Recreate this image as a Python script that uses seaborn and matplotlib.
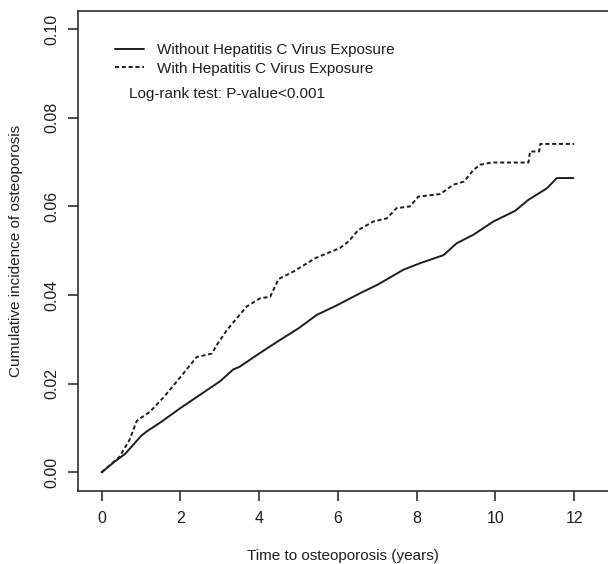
import numpy as np
import pandas as pd
import matplotlib
matplotlib.use("Agg")
import matplotlib.pyplot as plt
import seaborn as sns

# cumulative incidence
time_without = [0, 0.3, 0.6, 1.0, 1.14, 1.5, 2.0, 2.5, 3.0, 3.34, 3.5, 4.0, 4.5, 5.0,
                5.46, 6.0, 6.56, 7.0, 7.66, 8.09, 8.68, 9.02, 9.44, 9.95, 10.5,
                10.84, 11.31, 11.56, 11.98]
cuminc_without = [0, 0.0022, 0.0042, 0.0082, 0.0092, 0.0113, 0.0145, 0.0175, 0.0205,
                  0.0232, 0.0238, 0.0268, 0.0297, 0.0325, 0.0355, 0.0378, 0.0404,
                  0.0423, 0.0457, 0.0472, 0.0490, 0.0517, 0.0536, 0.0566, 0.0590,
                  0.0615, 0.0641, 0.0664, 0.0664]

time_with = [0, 0.45, 0.7, 0.89, 1.23, 1.6, 2.0, 2.41, 2.8, 2.92, 3.18, 3.68, 4.03,
             4.28, 4.49, 4.87, 5.42, 6.05, 6.27, 6.52, 6.9, 7.24, 7.49, 7.83, 8.04,
             8.6, 8.93, 9.2, 9.44, 9.61, 9.9, 10.84, 10.88, 11.11, 11.14, 12.0]
cuminc_with = [0, 0.0035, 0.0072, 0.0116, 0.0137, 0.0172, 0.0215, 0.0260, 0.0268,
               0.0287, 0.0321, 0.0374, 0.0393, 0.0396, 0.0436, 0.0453, 0.0483,
               0.0506, 0.0521, 0.0547, 0.0566, 0.0573, 0.0596, 0.0600, 0.0622,
               0.0628, 0.0649, 0.0656, 0.0682, 0.0694, 0.0699, 0.0699, 0.0724,
               0.0724, 0.0741, 0.0741]

group_names = ["Without Hepatitis C Virus Exposure", "With Hepatitis C Virus Exposure"]
x_ticks = [0, 2, 4, 6, 8, 10, 12]
y_ticks = [0.00, 0.02, 0.04, 0.06, 0.08, 0.10]
y_tick_labels = ["0.00", "0.02", "0.04", "0.06", "0.08", "0.10"]

df = pd.concat([
    pd.DataFrame({"time": time_without, "cuminc": cuminc_without, "group": group_names[0]}),
    pd.DataFrame({"time": time_with, "cuminc": cuminc_with, "group": group_names[1]}),
])

sns.set_style("ticks")
plt.rcParams["font.family"] = ["Liberation Sans", "DejaVu Sans"]
ink = "#1e1e1e"

fig = plt.figure(figsize=(6.08, 5.64), dpi=100)
ax = fig.add_axes([0.1278, 0.1300, 0.8722, 0.8505])

sns.lineplot(data=df, x="time", y="cuminc", style="group", style_order=group_names,
             dashes={group_names[0]: "", group_names[1]: (2.1, 1.4)},
             color=ink, linewidth=1.4, estimator=None, sort=False, ax=ax)

ax.set_xlim(-0.61, 12.86)
ax.set_ylim(-0.00415, 0.1041)
ax.set_xticks(x_ticks)
ax.set_xticklabels([str(t) for t in x_ticks])
ax.set_yticks(y_ticks)
ax.set_yticklabels(y_tick_labels, rotation=90, va="center")

for side in ["left", "top", "bottom"]:
    ax.spines[side].set_linewidth(1.1)
    ax.spines[side].set_color(ink)
ax.spines["right"].set_visible(False)
ax.tick_params(axis="both", direction="out", length=7, width=1.1, color=ink,
               labelsize=11.5, labelcolor=ink)
ax.tick_params(axis="x", pad=7.5)
ax.tick_params(axis="y", pad=6)

ax.set_xlabel("Time to osteoporosis (years)", fontsize=11, color=ink)
ax.set_ylabel("Cumulative incidence of osteoporosis", fontsize=11, color=ink)
ax.xaxis.set_label_coords(0.5, -0.121)
ax.yaxis.set_label_coords(-0.103, 0.5)

handles, labels = ax.get_legend_handles_labels()
ax.legend(handles, labels, loc="upper left", bbox_to_anchor=(0.0703, 0.933),
          frameon=False, fontsize=11, handlelength=1.9, handletextpad=0.83,
          labelspacing=0.3, borderpad=0, borderaxespad=0, labelcolor=ink)
ax.text(0.0973, 0.8263, "Log-rank test: P-value<0.001", transform=ax.transAxes,
        fontsize=11, color=ink, va="center", ha="left")

fig.savefig("out.png", dpi=100)
